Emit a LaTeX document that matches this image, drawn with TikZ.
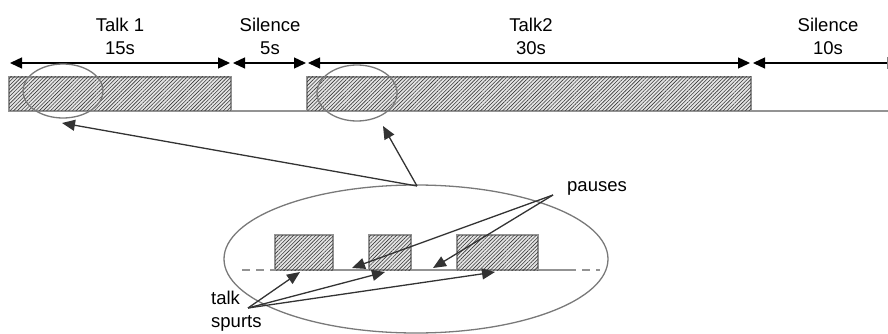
\documentclass[tikz,border=0pt]{standalone}
\usepackage{fontspec}
\setmainfont{Liberation Sans}
\usetikzlibrary{arrows.meta,patterns.meta,shapes.geometric}
\begin{document}
\begin{tikzpicture}[x=1pt,y=-1pt,
  lbl/.style={font=\fontsize{18.5}{23}\selectfont, inner sep=0pt, align=center},
  dim/.style={line width=1.3pt, black, {Triangle[length=12pt,width=11pt]}-{Triangle[length=12pt,width=11pt]}},
  hatchbox/.style={draw=gray!85, line width=1.5pt, fill=gray!20, postaction={pattern={Lines[angle=45,distance=2.6pt,line width=0.6pt]}, pattern color=gray!45!black}},
  baseline/.style={draw=gray!85, line width=1.5pt},
  ring/.style={ellipse, draw=gray!95!black, line width=1.3pt, inner sep=0pt},
  ptr/.style={line width=1.3pt, draw=black!80, -{Triangle[length=13pt,width=11pt]}}
]
\useasboundingbox (0,0) rectangle (888,334);

% labels
\node[lbl] (l1) at (120,36) {Talk 1\\15s};
\node[lbl] (l2) at (270,36) {Silence\\5s};
\node[lbl] (l3) at (531,36) {Talk2\\30s};
\node[lbl] (l4) at (828,36) {Silence\\10s};

% dimension arrows
\coordinate (a0) at (10,63);
\coordinate (a1) at (230,63);
\coordinate (b0) at (233,63);
\coordinate (b1) at (306,63);
\coordinate (c0) at (308,63);
\coordinate (c1) at (750,63);
\coordinate (d0) at (753,63);
\coordinate (d1) at (887,63);
\draw[dim] (a0) -- (a1);
\draw[dim] (b0) -- (b1);
\draw[dim] (c0) -- (c1);
\draw[line width=1.3pt, black, {Triangle[length=12pt,width=11pt]}-] (d0) -- (d1);
\draw[line width=1pt, gray] (887,57) -- (887,69);

% timeline
\coordinate (s0) at (231,111);
\coordinate (s1) at (307,111);
\coordinate (s2) at (751,111);
\coordinate (s3) at (888,111);
\draw[baseline] (s0) -- (s1);
\draw[baseline] (s2) -- (s3);
\path[hatchbox] (9,77) rectangle (231,111);
\path[hatchbox] (307,77) rectangle (751,111);

% small rings
\node[ring, minimum width=80pt, minimum height=54pt] (e1) at (63,91) {};
\node[ring, minimum width=80pt, minimum height=56pt] (e2) at (357,93) {};

% big ring
\node[ring, minimum width=384pt, minimum height=148pt] (big) at (416,259) {};

% zoom pointers
\coordinate (z0) at (417,186);
\coordinate (z1) at (62,123);
\coordinate (z2) at (383,126);
\draw[ptr] (z0) -- (z1);
\draw[ptr] (z0) -- (z2);

% inner timeline
\draw[baseline] (275,270) -- (568,270);
\draw[baseline, dash pattern=on 8pt off 6pt] (242,270) -- (275,270);
\draw[baseline, dash pattern=on 8pt off 6pt] (568,270) -- (600,270);
\path[hatchbox] (275,235) rectangle (333,270);
\path[hatchbox] (369,235) rectangle (411,270);
\path[hatchbox] (457,235) rectangle (538,270);

% pauses
\node[lbl, anchor=west] (pz) at (567,188) {pauses};
\coordinate (p0) at (553,195);
\coordinate (p1) at (352,268);
\coordinate (p2) at (433,268);
\draw[ptr] (p0) -- (p1);
\draw[ptr] (p0) -- (p2);

% talk spurts
\node[lbl, anchor=west, align=left] (ts) at (211,311) {talk\\spurts};
\coordinate (q0) at (248,308);
\coordinate (q1) at (300,272);
\coordinate (q2) at (385,272);
\coordinate (q3) at (495,272);
\draw[ptr] (q0) -- (q1);
\draw[ptr] (q0) -- (q2);
\draw[ptr] (q0) -- (q3);
\end{tikzpicture}
\end{document}
